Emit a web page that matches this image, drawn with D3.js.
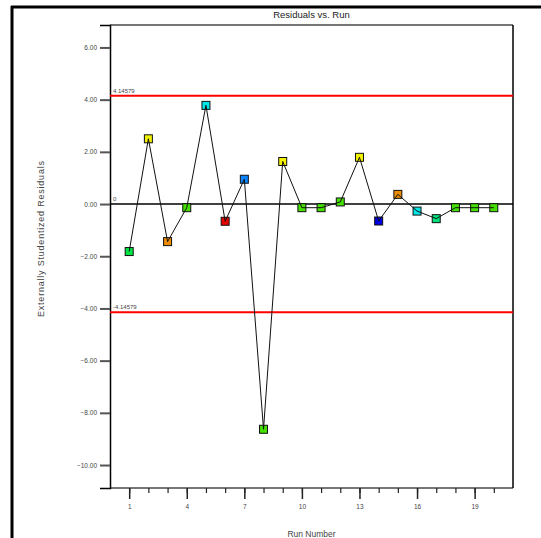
<!DOCTYPE html>
<html>
<head>
<meta charset="utf-8">
<script src="https://cdn.jsdelivr.net/npm/d3@7"></script>
<style>
  body { margin: 0; background: #fff; }
  svg { display: block; font-family: "Liberation Sans", Arial, sans-serif; }
</style>
</head>
<body>
<script>
// Residuals vs. Run
const runs = d3.range(1, 21);
const residuals = [-1.82, 2.50, -1.44, -0.14, 3.78, -0.66, 0.95, -8.63, 1.63, -0.14,
                   -0.14, 0.08, 1.79, -0.65, 0.37, -0.27, -0.56, -0.14, -0.14, -0.14];
const pointColors = ["#00e444", "#f2f200", "#ee8c00", "#44e000", "#00e6e6", "#e60000",
                     "#0a84ff", "#44e000", "#f2f200", "#44e000", "#44e000", "#44e000",
                     "#f2f200", "#0000e0", "#ee8c00", "#00e6e6", "#00e07c", "#44e000",
                     "#44e000", "#44e000"];
const yTicks = [6, 4, 2, 0, -2, -4, -6, -8, -10];
const xMajorTicks = [1, 4, 7, 10, 13, 16, 19];
const limit = 4.14579;

const width = 541, height = 538;
const plot = { left: 110, right: 513, top: 25, bottom: 488 };

const svg = d3.select("body").append("svg")
  .attr("width", width)
  .attr("height", height);

const x = d3.scaleLinear().domain([0, 21]).range([plot.left, plot.right]);
const y = d3.scaleLinear().domain([-10.88, 6.86]).range([plot.bottom, plot.top]);

// outer frame (top and left edges only are visible)
svg.append("line").attr("x1", 11).attr("x2", width).attr("y1", 7).attr("y2", 7)
  .attr("stroke", "#000").attr("stroke-width", 3);
svg.append("line").attr("x1", 12).attr("x2", 12).attr("y1", 6).attr("y2", height)
  .attr("stroke", "#000").attr("stroke-width", 3);

// title
svg.append("text")
  .attr("x", (plot.left + plot.right) / 2).attr("y", 18)
  .attr("text-anchor", "middle")
  .attr("font-size", 9.5).attr("fill", "#222")
  .text("Residuals vs. Run");

// plot frame
svg.append("line").attr("x1", plot.left).attr("x2", plot.right).attr("y1", plot.top).attr("y2", plot.top)
  .attr("stroke", "#777").attr("stroke-width", 2);
svg.append("line").attr("x1", plot.left).attr("x2", plot.right).attr("y1", plot.bottom).attr("y2", plot.bottom)
  .attr("stroke", "#777").attr("stroke-width", 2);
svg.append("line").attr("x1", plot.right).attr("x2", plot.right).attr("y1", plot.top).attr("y2", plot.bottom)
  .attr("stroke", "#000").attr("stroke-width", 1.5);

// y axis
const yAxis = d3.axisLeft(y)
  .tickValues(yTicks)
  .tickSize(10)
  .tickPadding(3)
  .tickFormat(d3.format(".2f"));
const gy = svg.append("g")
  .attr("transform", `translate(${plot.left},0)`)
  .call(yAxis);
gy.select(".domain").attr("stroke", "#000").attr("stroke-width", 1.5);
gy.selectAll(".tick line").attr("stroke", "#555").attr("stroke-width", 2);
gy.selectAll(".tick text").attr("font-size", 6.5).attr("fill", "#444")
  .attr("font-family", "'Liberation Sans', Arial, sans-serif");

// x axis: minor ticks every run, majors labelled
const xMinor = d3.axisBottom(x).tickValues(runs).tickSize(5).tickFormat("");
const gxm = svg.append("g").attr("transform", `translate(0,${plot.bottom})`).call(xMinor);
gxm.select(".domain").remove();
gxm.selectAll(".tick line").attr("stroke", "#222").attr("stroke-width", 1.2);

const xAxis = d3.axisBottom(x).tickValues(xMajorTicks).tickSize(11).tickPadding(5);
const gx = svg.append("g").attr("transform", `translate(0,${plot.bottom})`).call(xAxis);
gx.select(".domain").remove();
gx.selectAll(".tick line").attr("stroke", "#222").attr("stroke-width", 1.5);
gx.selectAll(".tick text").attr("font-size", 6.5).attr("fill", "#444")
  .attr("font-family", "'Liberation Sans', Arial, sans-serif");

// axis titles
svg.append("text")
  .attr("transform", "translate(44,239) rotate(-90)")
  .attr("text-anchor", "middle")
  .attr("font-size", 9).attr("fill", "#444")
  .attr("textLength", 156).attr("lengthAdjust", "spacing")
  .text("Externally Studentized Residuals");
svg.append("text")
  .attr("x", (plot.left + plot.right) / 2).attr("y", 537)
  .attr("text-anchor", "middle")
  .attr("font-size", 8.5).attr("fill", "#444")
  .text("Run Number");

// reference lines
const refLines = [
  { v: limit, color: "#ff0000", label: "4.14579", w: 2 },
  { v: -limit, color: "#ff0000", label: "-4.14579", w: 2 },
  { v: 0, color: "#000", label: "0", w: 1.6 }
];
svg.selectAll(".ref").data(refLines).enter().append("line")
  .attr("class", "ref")
  .attr("x1", plot.left).attr("x2", plot.right)
  .attr("y1", d => y(d.v)).attr("y2", d => y(d.v))
  .attr("stroke", d => d.color).attr("stroke-width", d => d.w);
svg.selectAll(".refLabel").data(refLines).enter().append("text")
  .attr("class", "refLabel")
  .attr("x", plot.left + 3).attr("y", d => y(d.v) - 3)
  .attr("font-size", 6).attr("fill", "#444")
  .text(d => d.label);

// points
const data = runs.map((r, i) => ({ run: r, v: residuals[i], c: pointColors[i] }));
const ms = 8;
svg.selectAll(".pt").data(data).enter().append("rect")
  .attr("class", "pt")
  .attr("x", d => x(d.run) - ms / 2).attr("y", d => y(d.v) - ms / 2)
  .attr("width", ms).attr("height", ms)
  .attr("fill", d => d.c)
  .attr("stroke", "#111").attr("stroke-width", 1);

// connecting line drawn over the markers, as in the original
svg.append("path")
  .datum(data)
  .attr("fill", "none")
  .attr("stroke", "#111").attr("stroke-width", 1)
  .attr("d", d3.line().x(d => x(d.run)).y(d => y(d.v)));
</script>
</body>
</html>
